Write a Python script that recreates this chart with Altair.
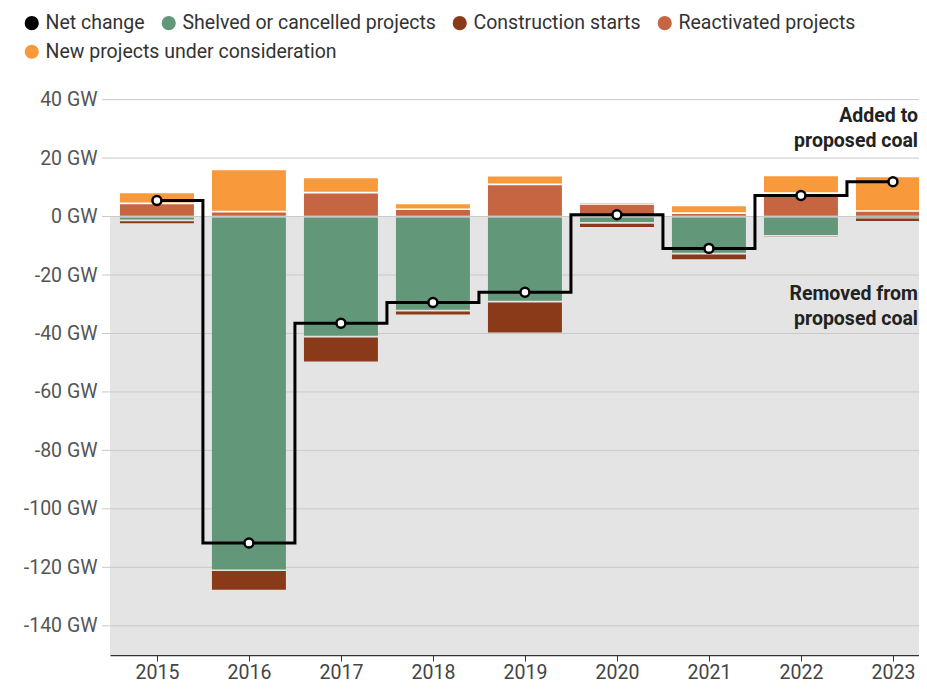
import altair as alt
import pandas as pd

years = [2015, 2016, 2017, 2018, 2019, 2020, 2021, 2022, 2023]
new_projects = [3.8, 14.4, 5.2, 2.0, 3.0, 0.3, 2.6, 6.1, 11.8]
reactivated = [4.5, 1.7, 8.2, 2.5, 11.0, 4.2, 1.2, 8.0, 1.9]
shelved = [-1.3, -121.0, -41.1, -32.2, -29.1, -2.2, -12.7, -6.6, -0.4]
construction = [-1.3, -7.0, -8.8, -1.6, -10.9, -1.7, -2.2, -0.5, -1.4]
net_change = [5.5, -111.7, -36.5, -29.4, -25.9, 0.6, -10.9, 7.2, 11.9]

series = ["Net change", "Shelved or cancelled projects", "Construction starts",
          "Reactivated projects", "New projects under consideration"]
colors = ["#000000", "#62977a", "#8a3a18", "#c66542", "#f8993c"]

grid_values = [-140, -120, -100, -80, -60, -40, -20, 0, 20, 40]
annot_text = ["Added to\nproposed coal", "Removed from\nproposed coal"]
annot_y = [34.5, -26.5]

rows = []
for i, yr in enumerate(years):
    rows.append({"year": yr, "series": series[3], "value": reactivated[i], "order": 1})
    rows.append({"year": yr, "series": series[4], "value": new_projects[i], "order": 2})
    rows.append({"year": yr, "series": series[1], "value": shelved[i], "order": 1})
    rows.append({"year": yr, "series": series[2], "value": construction[i], "order": 2})
bars_df = pd.DataFrame(rows)
net_df = pd.DataFrame({"year": years, "net": net_change})
grid_df = pd.DataFrame({"v": grid_values})
bg_df = pd.DataFrame({"y0": [0], "y1": [-150]})
annot_df = pd.DataFrame({"label": annot_text, "y": annot_y})

FS = 19.5
W, H = 809, 570
xscale = alt.Scale(domain=[2014.49, 2023.283], nice=False, zero=False)
yscale = alt.Scale(domain=[-150, 45], nice=False, zero=False)
HALF = 0.402

yaxis = alt.Axis(values=grid_values, labelExpr="datum.value + ' GW'",
                 ticks=False, domain=False, grid=False, title=None,
                 labelFontSize=FS, labelColor="#555", labelPadding=13)
xaxis = alt.Axis(values=years, format="d", grid=False, title=None, domainColor="#333",
                 domainWidth=1.5, tickColor="#333", tickSize=6, labelFontSize=FS,
                 labelColor="#444", labelPadding=17, labelBaseline="alphabetic")

legend_common = dict(title=None, orient="none", legendX=-88, direction="horizontal",
                     labelFontSize=FS, labelColor="#333", labelLimit=600,
                     symbolType="circle", symbolSize=200, symbolStrokeWidth=0,
                     columnPadding=14, labelOffset=4, padding=0)

color_enc = alt.Color("series:N",
                      scale=alt.Scale(domain=series[:4], range=colors[:4]),
                      legend=alt.Legend(legendY=-72, columns=4, **legend_common))
fill_enc = alt.Fill("series:N",
                    scale=alt.Scale(domain=series[4:], range=colors[4:]),
                    legend=alt.Legend(legendY=-43, **legend_common))

bg = alt.Chart(bg_df).mark_rect(color="#e4e4e4").encode(
    x=alt.value(0), x2=alt.value(W),
    y=alt.Y("y0:Q", scale=yscale, axis=yaxis), y2="y1:Q")

grid = alt.Chart(grid_df).mark_rule(color="#c9c9c9", strokeWidth=1).encode(
    y=alt.Y("v:Q", scale=yscale, axis=yaxis),
    x=alt.value(-8), x2=alt.value(W))


def stacked(filter_expr, series_name, yoff, y2off, paint):
    return alt.Chart(bars_df).transform_filter(filter_expr).transform_stack(
        stack="value", groupby=["year"], as_=["v0", "v1"],
        sort=[alt.SortField("order", order="ascending")]
    ).transform_filter(
        alt.datum.series == series_name
    ).transform_calculate(
        xa=f"datum.year - {HALF}", xb=f"datum.year + {HALF}"
    ).mark_bar(clip=True, yOffset=yoff, y2Offset=y2off).encode(
        x=alt.X("xa:Q", scale=xscale, axis=xaxis), x2="xb:Q",
        y=alt.Y("v1:Q", scale=yscale, axis=yaxis), y2="v0:Q",
        **paint)


react_bars = stacked("datum.value > 0", series[3], 0.85, -0.85, {"color": color_enc})
new_bars = stacked("datum.value > 0", series[4], 0.85, -0.85, {"fill": fill_enc})
shelved_bars = stacked("datum.value < 0", series[1], -0.85, 0.85, {"color": color_enc})
constr_bars = stacked("datum.value < 0", series[2], -0.85, 0.85, {"color": color_enc})

line = alt.Chart(net_df).mark_line(interpolate="step", color="black", strokeWidth=3,
                                   clip=True).encode(
    x=alt.X("year:Q", scale=xscale, axis=xaxis),
    y=alt.Y("net:Q", scale=yscale, axis=yaxis))
pts = alt.Chart(net_df).mark_circle(color="white", stroke="black", strokeWidth=2.5,
                                    size=80, opacity=1).encode(
    x=alt.X("year:Q", scale=xscale, axis=xaxis),
    y=alt.Y("net:Q", scale=yscale, axis=yaxis))

annot = alt.Chart(annot_df).mark_text(align="right", baseline="middle", fontWeight="bold",
                                      fontSize=FS, lineHeight=25, color="#222",
                                      lineBreak="\n").encode(
    x=alt.value(808), y=alt.Y("y:Q", scale=yscale, axis=yaxis), text="label:N")

chart = alt.layer(bg, grid, react_bars, new_bars, shelved_bars, constr_bars,
                  line, pts, annot).properties(
    width=W, height=H,
    autosize=alt.AutoSizeParams(type="none"),
    padding={"left": 102, "top": 77, "right": 0, "bottom": 29},
).configure(font="Roboto").configure_view(stroke=None)

chart.save("out.html", embed_options={"renderer": "svg", "actions": False})
